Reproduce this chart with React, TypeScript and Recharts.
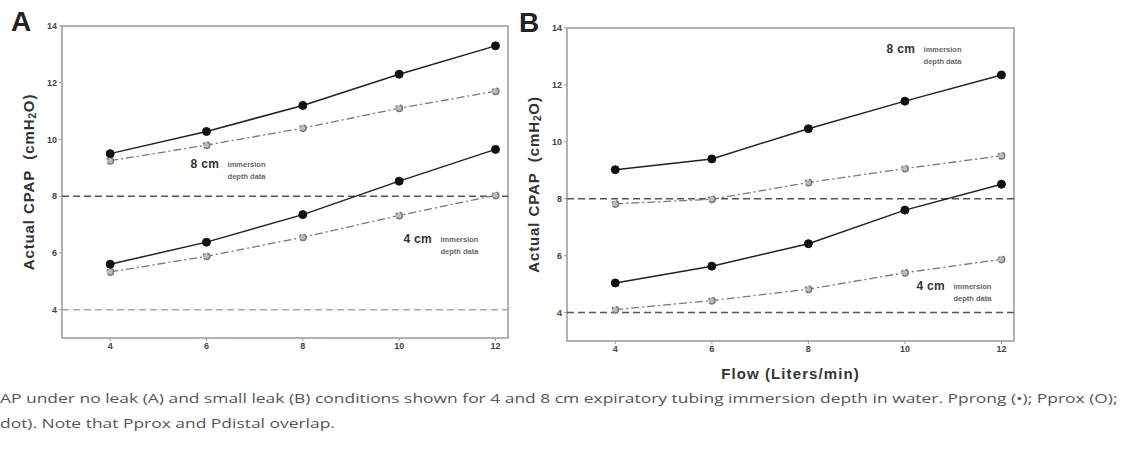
import React from 'react';
import { LineChart, Line, XAxis, YAxis, ReferenceLine, ReferenceArea, ReferenceDot } from 'recharts';

const flow = [4, 6, 8, 10, 12];
const xTicks = [4, 6, 8, 10, 12];
const yTicks = [4, 6, 8, 10, 12, 14];

const aProng8 = [9.5, 10.28, 11.2, 12.3, 13.3];
const aProx8 = [9.25, 9.8, 10.4, 11.1, 11.7];
const aProng4 = [5.6, 6.38, 7.35, 8.53, 9.65];
const aProx4 = [5.33, 5.88, 6.55, 7.32, 8.03];

const bProng8 = [9.02, 9.4, 10.46, 11.43, 12.35];
const bProx8 = [7.82, 7.98, 8.57, 9.06, 9.51];
const bProng4 = [5.04, 5.63, 6.42, 7.6, 8.51];
const bProx4 = [4.1, 4.42, 4.82, 5.4, 5.87];

const captionLine1 = 'AP under no leak (A) and small leak (B) conditions shown for 4 and 8 cm expiratory tubing immersion depth in water. Pprong (\u2022); Pprox (O);';
const captionLine2 = 'dot). Note that Pprox and Pdistal overlap.';

const build = (p8: number[], x8: number[], p4: number[], x4: number[]) =>
  flow.map((f, i) => ({ flow: f, prong8: p8[i], prox8: x8[i], prong4: p4[i], prox4: x4[i] }));

const dataA = build(aProng8, aProx8, aProng4, aProx4);
const dataB = build(bProng8, bProx8, bProng4, bProx4);

const FONT = 'Liberation Sans, Arial, sans-serif';
const X_DOMAIN: [number, number] = [3, 12.26];
const Y_DOMAIN: [number, number] = [3, 14];

const Anno = (big: string) => (props: any) => {
  const vb = props.viewBox || {};
  const x = vb.x ?? 0;
  const y = vb.y ?? 0;
  return (
    <g fontFamily={FONT} fontWeight="bold">
      <text x={x} y={y} fontSize={12} fill="#333" letterSpacing={0.3}>{big}</text>
      <text x={x + 37} y={y - 1} fontSize={7.5} fill="#666">immersion</text>
      <text x={x + 37} y={y + 11} fontSize={7.5} fill="#666">depth data</text>
    </g>
  );
};

const YLabel = (dx: number) => (props: any) => {
  const vb = props.viewBox || {};
  const cx = (vb.x ?? 0) + dx;
  const cy = (vb.y ?? 0) + (vb.height ?? 0) / 2;
  return (
    <text x={cx} y={cy} transform={`rotate(-90, ${cx}, ${cy})`} textAnchor="middle" dominantBaseline="central"
      fontFamily={FONT} fontWeight="bold" fontSize={15} letterSpacing={0.9} fill="#333">
      Actual CPAP{'\u00a0\u00a0'}(cmH<tspan fontSize={10} dy={4}>2</tspan><tspan dy={-4}>O)</tspan>
    </text>
  );
};

const XLabel = (props: any) => {
  const vb = props.viewBox || {};
  const cx = (vb.x ?? 0) + (vb.width ?? 0) / 2;
  const y = (vb.y ?? 0) + 38;
  return (
    <text x={cx} y={y} textAnchor="middle" fontFamily={FONT} fontWeight="bold" fontSize={15} letterSpacing={1.1} fill="#333">
      Flow (Liters/min)
    </text>
  );
};

const tickStyle = { fontSize: 9, fill: '#444', fontFamily: FONT, fontWeight: 'bold' as const };

function Panel({ data, width, height, margin, yAxisWidth, yLabelDx, showXLabel, refLine4Color, annos }: any) {
  return (
    <LineChart width={width} height={height} data={data} margin={margin}>
      <XAxis dataKey="flow" type="number" domain={X_DOMAIN} ticks={xTicks} axisLine={false}
        tickLine={{ stroke: '#999' }} tickSize={3} tick={tickStyle} height={30} interval={0}
        label={showXLabel ? { content: XLabel } : undefined} />
      <YAxis type="number" domain={Y_DOMAIN} ticks={yTicks} axisLine={false} tickLine={{ stroke: '#999' }}
        tickSize={3} tick={tickStyle} width={yAxisWidth} interval={0} label={{ content: YLabel(yLabelDx) }} />
      <ReferenceArea x1={X_DOMAIN[0]} x2={X_DOMAIN[1]} y1={Y_DOMAIN[0]} y2={Y_DOMAIN[1]} fill="none" stroke="#999" strokeWidth={1.5} ifOverflow="visible" />
      <ReferenceLine y={8} stroke="#555" strokeDasharray="7 4" strokeWidth={1.5} />
      <ReferenceLine y={4} stroke={refLine4Color} strokeDasharray="7 4" strokeWidth={1.5} />
      <Line dataKey="prox8" stroke="#777" strokeWidth={1.3} strokeDasharray="8 3 2 3" isAnimationActive={false}
        dot={{ r: 3.3, fill: '#bbb', stroke: '#777', strokeWidth: 1.5 }} />
      <Line dataKey="prox4" stroke="#777" strokeWidth={1.3} strokeDasharray="8 3 2 3" isAnimationActive={false}
        dot={{ r: 3.3, fill: '#bbb', stroke: '#777', strokeWidth: 1.5 }} />
      <Line dataKey="prong8" stroke="#222" strokeWidth={1.5} isAnimationActive={false}
        dot={{ r: 4, fill: '#111', stroke: '#111', strokeWidth: 1 }} />
      <Line dataKey="prong4" stroke="#222" strokeWidth={1.5} isAnimationActive={false}
        dot={{ r: 4, fill: '#111', stroke: '#111', strokeWidth: 1 }} />
      {annos.map((a: any, i: number) => (
        <ReferenceDot key={i} x={a.x} y={a.y} r={0} fill="none" stroke="none" ifOverflow="visible" label={{ content: Anno(a.text) }} />
      ))}
    </LineChart>
  );
}

const annosA = [
  { x: 5.67, y: 8.99, text: '8 cm' },
  { x: 10.09, y: 6.35, text: '4 cm' },
];
const annosB = [
  { x: 9.62, y: 13.12, text: '8 cm' },
  { x: 10.24, y: 4.79, text: '4 cm' },
];

export default function App() {
  return (
    <div style={{ position: 'absolute', left: 0, top: 0, width: 1125, height: 459, background: '#fff', overflow: 'hidden' }}>
      <div style={{ position: 'absolute', left: 0, top: 0 }}>
        <Panel data={dataA} width={530} height={380} margin={{ top: 26, right: 22, bottom: 12, left: 0 }}
          yAxisWidth={62} yLabelDx={28} showXLabel={false} refLine4Color="#aaa" annos={annosA} />
      </div>
      <div style={{ position: 'absolute', left: 520, top: 0 }}>
        <Panel data={dataB} width={520} height={400} margin={{ top: 28, right: 26, bottom: 29, left: 0 }}
          yAxisWidth={47} yLabelDx={13} showXLabel={true} refLine4Color="#555" annos={annosB} />
      </div>
      <div style={{ position: 'absolute', left: 11, top: 6, fontFamily: FONT, fontWeight: 'bold', fontSize: 28, color: '#222' }}>A</div>
      <div style={{ position: 'absolute', left: 519, top: 7, fontFamily: FONT, fontWeight: 'bold', fontSize: 28, color: '#222' }}>B</div>
      <div style={{ position: 'absolute', left: 0, top: 386, fontFamily: 'Open Sans, sans-serif', fontSize: 13.5, color: '#555', whiteSpace: 'nowrap', lineHeight: '25px', transform: 'scaleX(1.29)', transformOrigin: 'left top' }}>
        <div>{captionLine1}</div>
        <div>{captionLine2}</div>
      </div>
    </div>
  );
}
